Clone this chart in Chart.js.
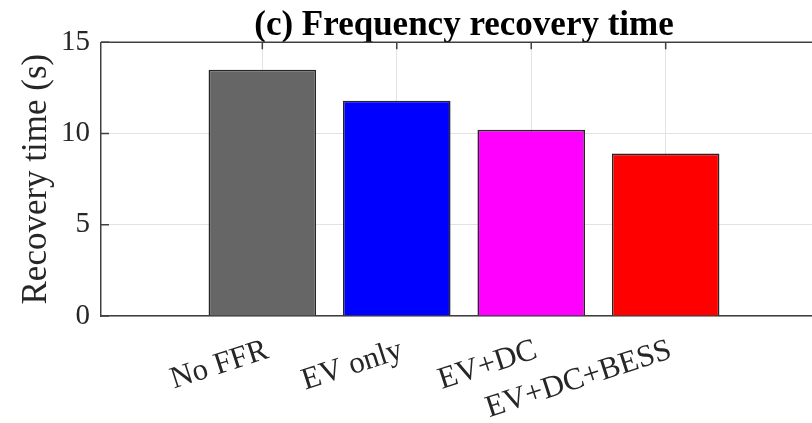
<!DOCTYPE html>
<html>
<head>
<meta charset="utf-8">
<script src="https://cdn.jsdelivr.net/npm/chart.js@4.4.1/dist/chart.umd.min.js"></script>
<style>
  html, body { margin: 0; padding: 0; background: #ffffff; overflow: hidden; }
  #wrap { position: relative; width: 840px; height: 423px; }
</style>
</head>
<body>
<div id="wrap"><canvas id="c"></canvas></div>
<script>
// ---- data ----
const categories = ['No FFR', 'EV only', 'EV+DC', 'EV+DC+BESS'];
const recoveryTime = [13.5, 11.8, 10.2, 8.9];
const barColors = ['#666666', '#0000ff', '#ff00ff', '#ff0000'];
const yTicks = [0, 5, 10, 15];
const titleText = '(c) Frequency recovery time';
const yTitle = 'Recovery time (s)';

const serif = "'Liberation Serif', 'Times New Roman', Times, serif";
const axisColor = '#404040';

const innerTicks = {
  id: 'innerTicks',
  beforeDatasetsDraw(chart) {
    const { ctx, chartArea: a, scales } = chart;
    ctx.save();
    ctx.strokeStyle = axisColor;
    ctx.lineWidth = 1.5;
    ctx.beginPath();
    scales.y.ticks.forEach(t => {
      const py = scales.y.getPixelForValue(t.value);
      ctx.moveTo(a.left, py); ctx.lineTo(a.left + 8, py);
    });
    scales.x.ticks.forEach(t => {
      const px = scales.x.getPixelForValue(t.value);
      ctx.moveTo(px, a.top); ctx.lineTo(px, a.top + 7);
      ctx.moveTo(px, a.bottom); ctx.lineTo(px, a.bottom - 7);
    });
    ctx.stroke();
    ctx.restore();
  },
  afterDraw(chart) {
    const { ctx, chartArea: a } = chart;
    ctx.save();
    ctx.strokeStyle = axisColor;
    ctx.lineWidth = 1.5;
    ctx.beginPath();
    ctx.moveTo(a.left, a.top); ctx.lineTo(a.right, a.top);
    ctx.moveTo(a.right, a.top); ctx.lineTo(a.right, a.bottom);
    ctx.stroke();
    ctx.restore();
  }
};

new Chart(document.getElementById('c'), {
  type: 'bar',
  data: {
    datasets: [{
      data: recoveryTime.map((v, i) => ({ x: i + 1, y: v })),
      backgroundColor: barColors,
      borderColor: '#262626',
      borderWidth: 1.6,
      barPercentage: 0.8,
      categoryPercentage: 1.0
    }]
  },
  options: {
    responsive: true,
    maintainAspectRatio: false,
    animation: false,
    layout: { padding: { left: 0, right: 13, top: 0, bottom: 0 } },
    plugins: {
      legend: { display: false },
      tooltip: { enabled: false },
      title: {
        display: true,
        text: titleText,
        fullSize: false,
        color: '#000000',
        font: { family: serif, size: 35, weight: 'bold', lineHeight: 0.95 },
        padding: { top: 9, bottom: 0 }
      }
    },
    scales: {
      x: {
        type: 'linear',
        offset: false,
        min: -0.2,
        max: 5.2,
        afterBuildTicks: s => { s.ticks = categories.map((c, i) => ({ value: i + 1 })); },
        afterFit: s => { s.height = 107; },
        ticks: {
          autoSkip: false,
          minRotation: 18,
          maxRotation: 18,
          padding: 16,
          labelOffset: 5,
          color: '#262626',
          font: { family: serif, size: 31 },
          callback: v => categories[v - 1]
        },
        grid: { offset: false, color: '#e3e3e3', lineWidth: 1, drawTicks: false },
        border: { display: true, color: axisColor, width: 1.5 }
      },
      y: {
        min: 0,
        max: 15,
        afterBuildTicks: s => { s.ticks = yTicks.map(v => ({ value: v })); },
        afterFit: s => { s.width = 101; },
        ticks: {
          padding: 11,
          color: '#262626',
          font: { family: serif, size: 29 }
        },
        grid: { color: '#e3e3e3', lineWidth: 1, drawTicks: false },
        border: { display: true, color: axisColor, width: 1.5 },
        title: {
          display: true,
          text: yTitle,
          color: '#262626',
          font: { family: serif, size: 35, lineHeight: 1.2 },
          padding: { top: 16, bottom: 0 }
        }
      }
    }
  },
  plugins: [innerTicks]
});
</script>
</body>
</html>
